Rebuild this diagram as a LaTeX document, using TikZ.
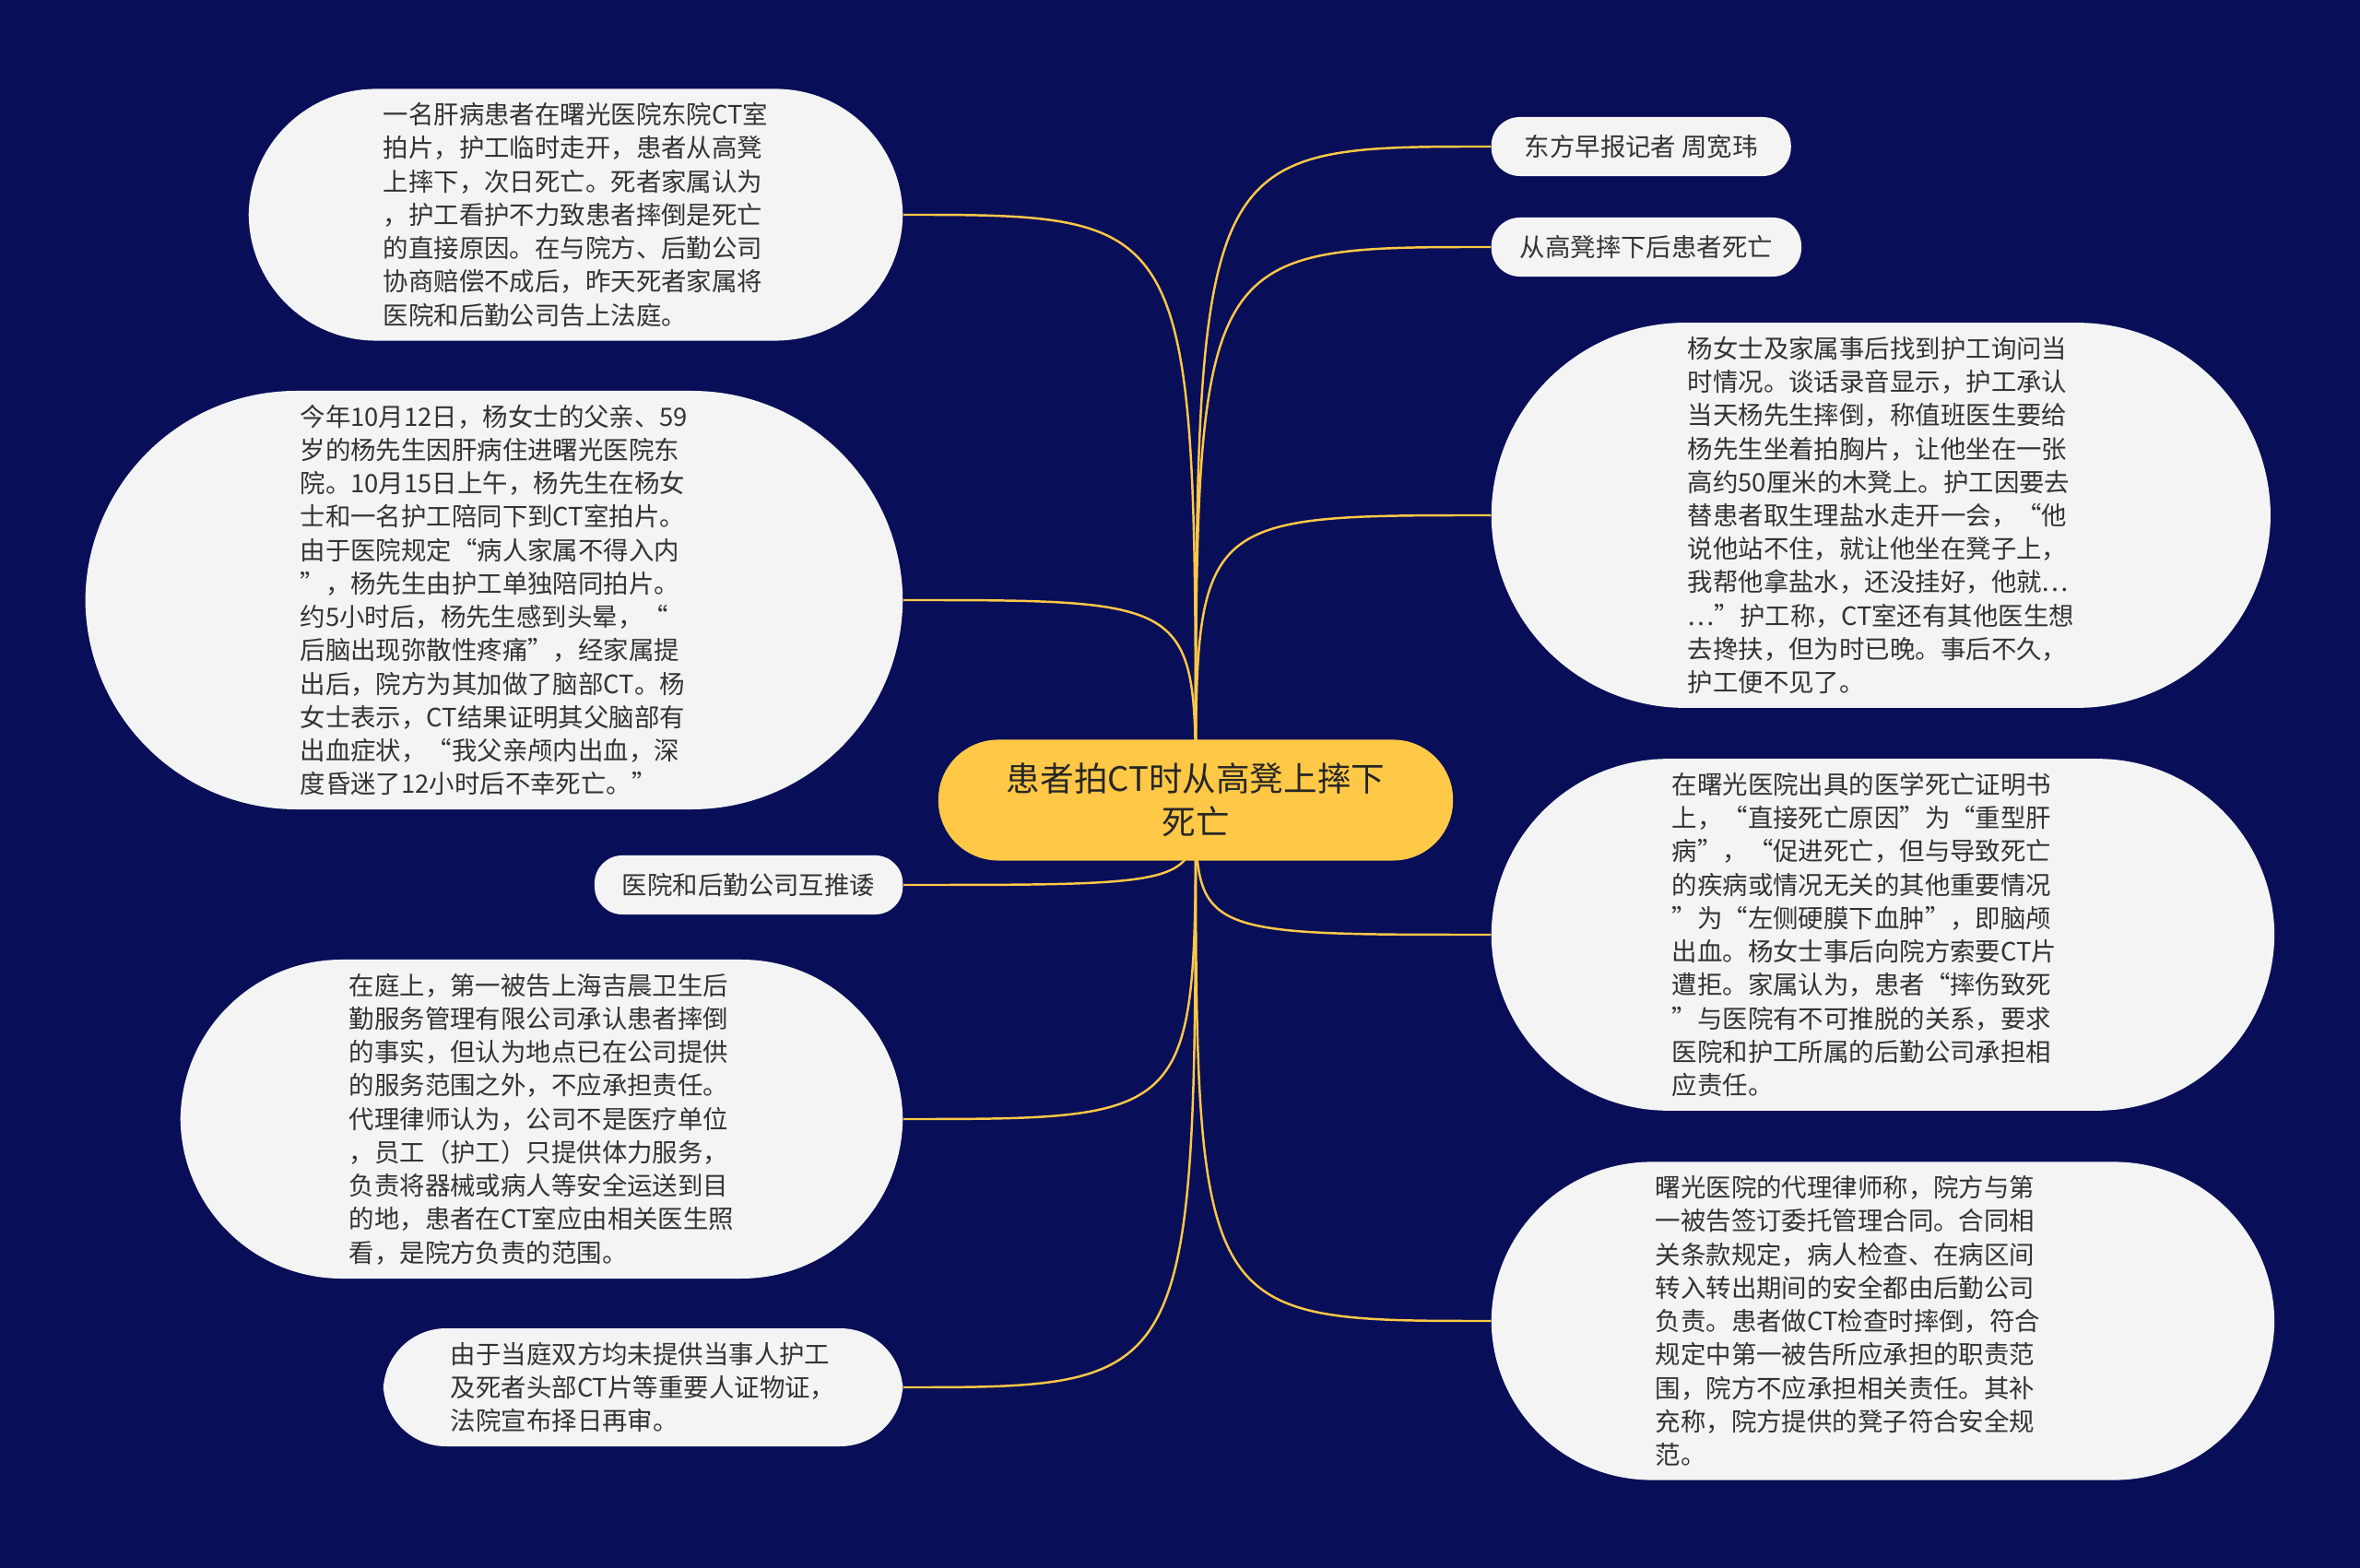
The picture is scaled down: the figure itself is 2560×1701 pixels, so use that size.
\documentclass[tikz,border=0pt]{standalone}
\usepackage{fontspec}
\newfontfamily\cjk{Noto Sans CJK SC}
\usepackage{tikz}

\definecolor{sfondo}{RGB}{9,14,88}
\definecolor{oro}{RGB}{255,200,70}
\definecolor{foglio}{RGB}{244,244,244}
\definecolor{testo}{RGB}{51,51,51}

\pgfdeclarelayer{fondo}
\pgfdeclarelayer{rami}
\pgfsetlayers{fondo,rami,main}

\tikzset{
	radice/.style={rectangle, rounded corners=0.65cm, fill=oro, text=black!85, align=center,
		font=\cjk\fontsize{10.4pt}{13.5pt}\selectfont,
		inner xsep=0.74cm, inner ysep=0.2cm, minimum height=1.31cm},
	foglia/.style={rectangle, rounded corners=#1, inner xsep=#1, fill=foglio, text=testo, align=left,
		font=\cjk\fontsize{7.8pt}{10.3pt}\selectfont,
		inner ysep=0.15cm, minimum height=0.64cm},
	ramo/.style={draw=oro, line width=0.7pt}
}

\begin{document}
\begin{tikzpicture}[x=0.01cm, y=-0.01cm]
		% Sfondo
		\begin{pgfonlayer}{fondo}
			\fill[sfondo] (0,0) rectangle (2560,1701);
		\end{pgfonlayer}
		
		% Radice
		\node[radice] (radice) at (1297,868) {患者拍CT时从高凳上摔下\\死亡};
		
		% Sinistra
		\node[foglia=1.38cm, inner xsep=1.46cm, anchor=east] (sommario) at (980,233) {一名肝病患者在曙光医院东院CT室\\拍片，护工临时走开，患者从高凳\\上摔下，次日死亡。死者家属认为\\，护工看护不力致患者摔倒是死亡\\的直接原因。在与院方、后勤公司\\协商赔偿不成后，昨天死者家属将\\医院和后勤公司告上法庭。};
		\node[foglia=2.29cm, inner xsep=2.33cm, anchor=east] (padre) at (980,651) {今年10月12日，杨女士的父亲、59\\岁的杨先生因肝病住进曙光医院东\\院。10月15日上午，杨先生在杨女\\士和一名护工陪同下到CT室拍片。\\由于医院规定“病人家属不得入内\\”，杨先生由护工单独陪同拍片。\\约5小时后，杨先生感到头晕，“\\后脑出现弥散性疼痛”，经家属提\\出后，院方为其加做了脑部CT。杨\\女士表示，CT结果证明其父脑部有\\出血症状，“我父亲颅内出血，深\\度昏迷了12小时后不幸死亡。”};
		\node[foglia=0.3cm, anchor=east] (rimpallo) at (980,960) {医院和后勤公司互推诿};
		\node[foglia=1.75cm, inner xsep=1.83cm, anchor=east] (difesa) at (980,1214) {在庭上，第一被告上海吉晨卫生后\\勤服务管理有限公司承认患者摔倒\\的事实，但认为地点已在公司提供\\的服务范围之外，不应承担责任。\\代理律师认为，公司不是医疗单位\\，员工（护工）只提供体力服务，\\负责将器械或病人等安全运送到目\\的地，患者在CT室应由相关医生照\\看，是院方负责的范围。};
		\node[foglia=0.68cm, inner xsep=0.73cm, anchor=east] (rinvio) at (980,1505) {由于当庭双方均未提供当事人护工\\及死者头部CT片等重要人证物证，\\法院宣布择日再审。};
		
		% Destra
		\node[foglia=0.31cm, inner xsep=0.36cm, anchor=west] (cronista) at (1617,159) {东方早报记者 周宽玮};
		\node[foglia=0.31cm, anchor=west] (titolo) at (1617,268) {从高凳摔下后患者死亡};
		\node[foglia=2.1cm, inner xsep=2.13cm, anchor=west] (infermiere) at (1617,559) {杨女士及家属事后找到护工询问当\\时情况。谈话录音显示，护工承认\\当天杨先生摔倒，称值班医生要给\\杨先生坐着拍胸片，让他坐在一张\\高约50厘米的木凳上。护工因要去\\替患者取生理盐水走开一会，“他\\说他站不住，就让他坐在凳子上，\\我帮他拿盐水，还没挂好，他就…\\…”护工称，CT室还有其他医生想\\去搀扶，但为时已晚。事后不久，\\护工便不见了。};
		\node[foglia=1.92cm, inner xsep=1.96cm, text width=4.57cm, anchor=west] (certificato) at (1617,1014) {在曙光医院出具的医学死亡证明书\\上，“直接死亡原因”为“重型肝\\病”，“促进死亡，但与导致死亡\\的疾病或情况无关的其他重要情况\\”为“左侧硬膜下血肿”，即脑颅\\出血。杨女士事后向院方索要CT片\\遭拒。家属认为，患者“摔伤致死\\”与医院有不可推脱的关系，要求\\医院和护工所属的后勤公司承担相\\应责任。};
		\node[foglia=1.74cm, inner xsep=1.78cm, text width=4.93cm, anchor=west] (avvocato) at (1617,1433) {曙光医院的代理律师称，院方与第\\一被告签订委托管理合同。合同相\\关条款规定，病人检查、在病区间\\转入转出期间的安全都由后勤公司\\负责。患者做CT检查时摔倒，符合\\规定中第一被告所应承担的职责范\\围，院方不应承担相关责任。其补\\充称，院方提供的凳子符合安全规\\范。};
		
		% Rami
		\begin{pgfonlayer}{rami}
			\draw[ramo] (radice.center) .. controls (radice.center |- sommario.east) .. (sommario.east);
			\draw[ramo] (radice.center) .. controls (radice.center |- padre.east) .. (padre.east);
			\draw[ramo] (radice.center) .. controls (radice.center |- rimpallo.east) .. (rimpallo.east);
			\draw[ramo] (radice.center) .. controls (radice.center |- difesa.east) .. (difesa.east);
			\draw[ramo] (radice.center) .. controls (radice.center |- rinvio.east) .. (rinvio.east);
			\draw[ramo] (radice.center) .. controls (radice.center |- cronista.west) .. (cronista.west);
			\draw[ramo] (radice.center) .. controls (radice.center |- titolo.west) .. (titolo.west);
			\draw[ramo] (radice.center) .. controls (radice.center |- infermiere.west) .. (infermiere.west);
			\draw[ramo] (radice.center) .. controls (radice.center |- certificato.west) .. (certificato.west);
			\draw[ramo] (radice.center) .. controls (radice.center |- avvocato.west) .. (avvocato.west);
		\end{pgfonlayer}
	\end{tikzpicture}
\end{document}
